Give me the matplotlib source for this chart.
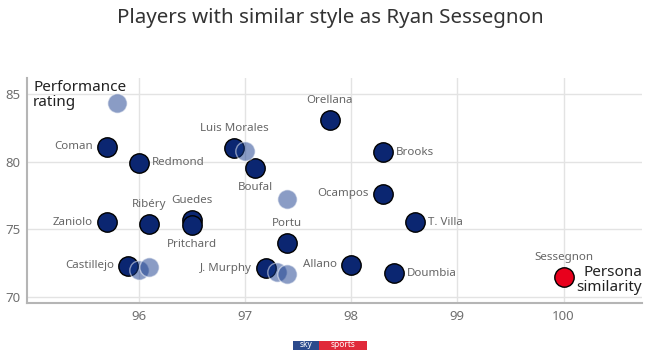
import matplotlib.pyplot as plt
from matplotlib.patches import Rectangle

plt.rcParams['font.family'] = ['Noto Sans', 'DejaVu Sans']

# similar players (labelled)
names = ['Orellana', 'Coman', 'Redmond', 'Luis Morales', 'Boufal', 'Brooks',
         'Ocampos', 'T. Villa', 'Portu', 'Allano', 'Doumbia', 'J. Murphy',
         'Zaniolo', 'Ribéry', 'Guedes', 'Pritchard', 'Castillejo']
similarity = [97.8, 95.7, 96.0, 96.9, 97.1, 98.3,
              98.3, 98.6, 97.4, 98.0, 98.4, 97.2,
              95.7, 96.1, 96.5, 96.5, 95.9]
rating = [83.1, 81.1, 79.9, 81.0, 79.5, 80.7,
          77.6, 75.5, 74.0, 72.35, 71.75, 72.1,
          75.5, 75.4, 75.65, 75.3, 72.3]

# other players (faded, unlabelled)
other_sim = [95.8, 97.0, 97.4, 96.0, 96.1, 97.3, 97.4]
other_rating = [84.3, 80.8, 77.2, 72.0, 72.2, 71.8, 71.7]

target_name = 'Sessegnon'
target_sim = 100.0
target_rating = 71.45

# where each label sits relative to its dot
label_side = {
    'Orellana': 'above', 'Coman': 'left', 'Redmond': 'right',
    'Luis Morales': 'above', 'Boufal': 'below', 'Brooks': 'right',
    'Ocampos': 'left', 'T. Villa': 'right', 'Portu': 'above',
    'Allano': 'left', 'Doumbia': 'right', 'J. Murphy': 'left',
    'Zaniolo': 'left', 'Ribéry': 'above', 'Guedes': 'above',
    'Pritchard': 'below', 'Castillejo': 'left',
}

DARK = '#0b2671'
LIGHT = '#163b8c'
RED = '#e8001c'
GRID = '#e3e3e3'
LABEL = '#666666'

fig = plt.figure(figsize=(6.6, 3.5), dpi=100)
ax = fig.add_axes([0.041, 0.135, 0.932, 0.641])

ax.scatter(similarity, rating, s=195, color=DARK, edgecolor='black',
           linewidth=1, zorder=3)
ax.scatter(other_sim, other_rating, s=195, color=LIGHT, alpha=0.5,
           edgecolor='white', linewidth=1, zorder=4)
ax.scatter([target_sim], [target_rating], s=195, color=RED,
           edgecolor='black', linewidth=1, zorder=3)

offsets = {'left': (-10, 0, 'right', 'center'),
           'right': (9.5, 0, 'left', 'center'),
           'above': (0, 14, 'center', 'center'),
           'below': (0, -14, 'center', 'center')}
for n, xv, yv in zip(names, similarity, rating):
    dx, dy, ha, va = offsets[label_side[n]]
    ax.annotate(n, (xv, yv), xytext=(dx, dy), textcoords='offset points',
                ha=ha, va=va, fontsize=8.3, color=LABEL, zorder=5)
ax.annotate(target_name, (target_sim, target_rating), xytext=(0, 14),
            textcoords='offset points', ha='center', va='center',
            fontsize=8.3, color=LABEL)

ax.set_xlim(94.95, 100.74)
ax.set_ylim(69.55, 86.15)
ax.set_xticks([96, 97, 98, 99, 100])
ax.set_yticks([70, 75, 80, 85])
ax.grid(True, color=GRID, linewidth=1)
ax.set_axisbelow(True)
ax.tick_params(length=0, labelsize=9.5, labelcolor='#707070')
ax.tick_params(axis='y', pad=4.5)
ax.tick_params(axis='x', pad=5)
for lab in ax.get_xticklabels() + ax.get_yticklabels():
    lab.set_fontweight('bold')
for side in ['top', 'right']:
    ax.spines[side].set_visible(False)
for side in ['left', 'bottom']:
    ax.spines[side].set_color('#b5b5b5')
    ax.spines[side].set_linewidth(1.5)

ax.text(0.01, 0.995, 'Performance\nrating', transform=ax.transAxes,
        ha='left', va='top', fontsize=11, color='#222222',
        linespacing=1.0, zorder=6)
ax.text(1.0, 0.1, 'Persona\nsimilarity', transform=ax.transAxes,
        ha='right', va='center', fontsize=11, color='#222222',
        linespacing=1.0, zorder=6)

fig.text(0.5, 0.95, 'Players with similar style as Ryan Sessegnon',
         ha='center', va='center', fontsize=14.8, color='#333333')

# sky sports badge at the bottom edge
fig.patches.append(Rectangle((293 / 660, -0.01), 26 / 660, 0.035,
                             transform=fig.transFigure, fc='#2b4a8c',
                             ec='none'))
fig.patches.append(Rectangle((319 / 660, -0.01), 48 / 660, 0.035,
                             transform=fig.transFigure, fc='#e0293a',
                             ec='none'))
fig.text(306 / 660, 0.003, 'sky', ha='center', va='bottom', fontsize=6,
         color='white', fontweight='bold')
fig.text(343 / 660, 0.003, 'sports', ha='center', va='bottom',
         fontsize=6, color='white')

fig.savefig('out.png', dpi=100)
